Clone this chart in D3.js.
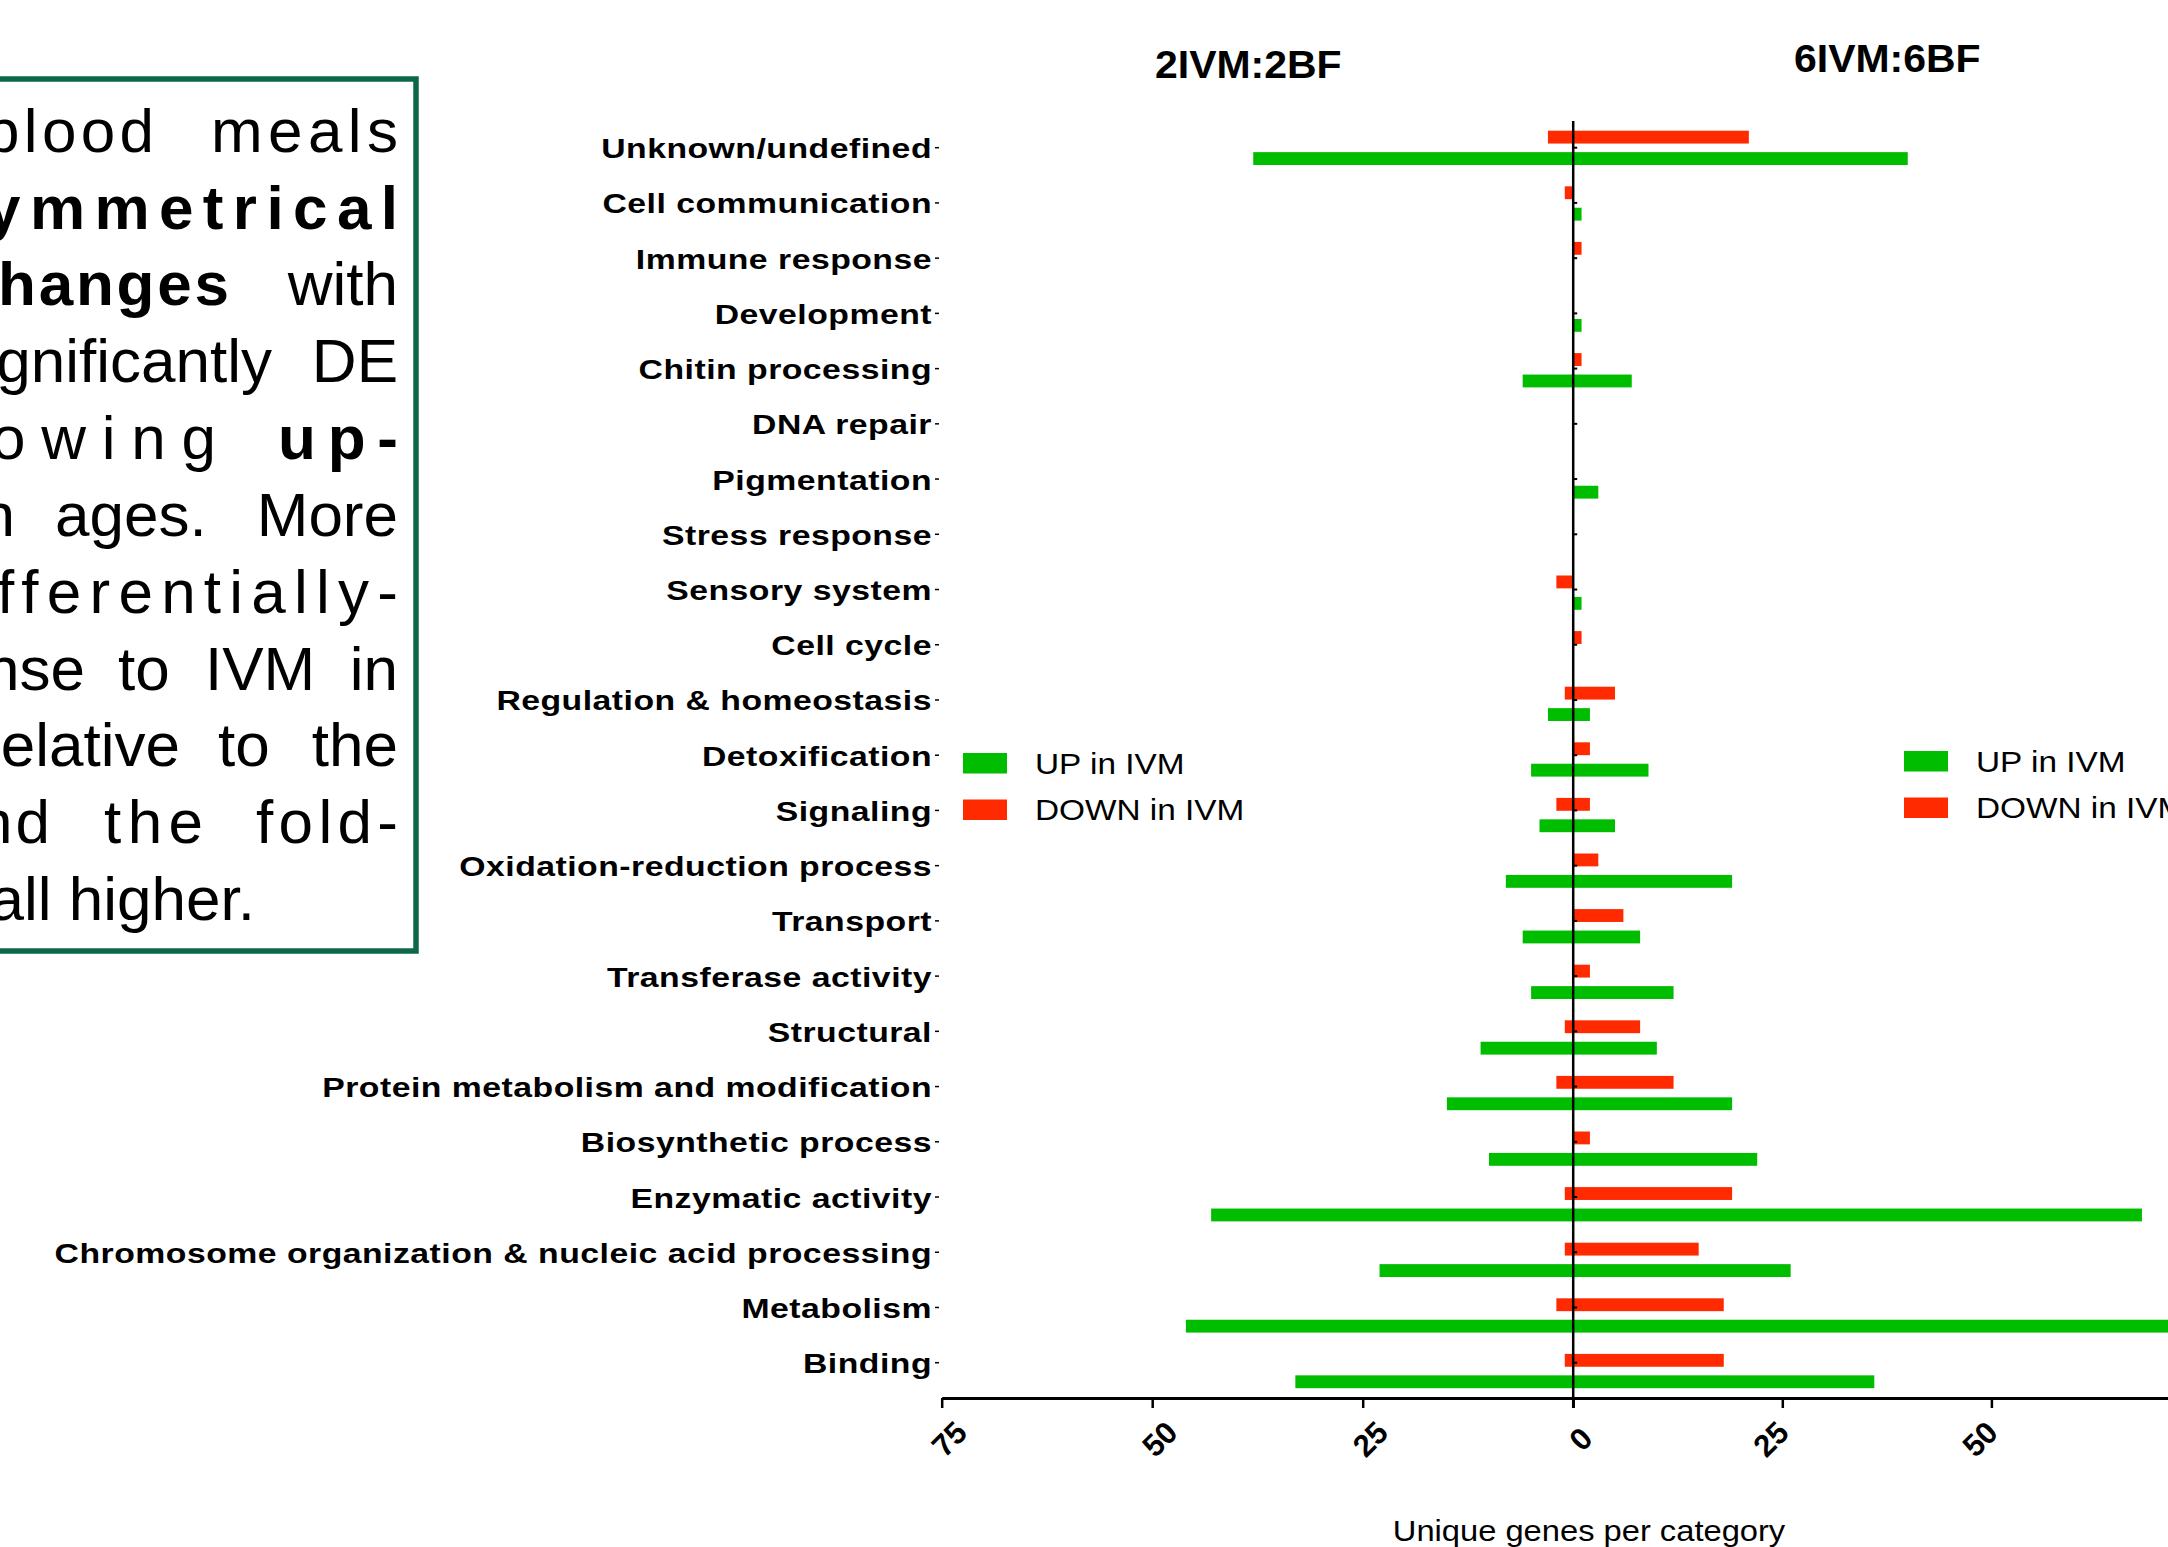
<!DOCTYPE html>
<html><head><meta charset="utf-8">
<script src="https://cdn.jsdelivr.net/npm/d3@7"></script>
<style>html,body{margin:0;padding:0;background:#fff;overflow:hidden}</style>
</head><body>
<svg id="chart" width="2168" height="1547" xmlns="http://www.w3.org/2000/svg"></svg>
<script>
// ---------- data ----------
const categories = [
  "Unknown/undefined","Cell communication","Immune response","Development",
  "Chitin processing","DNA repair","Pigmentation","Stress response",
  "Sensory system","Cell cycle","Regulation & homeostasis","Detoxification",
  "Signaling","Oxidation-reduction process","Transport","Transferase activity",
  "Structural","Protein metabolism and modification","Biosynthetic process",
  "Enzymatic activity","Chromosome organization & nucleic acid processing",
  "Metabolism","Binding"
];
// 2IVM:2BF (drawn to the left of zero)
const upIVM_2 =   [38,0,0,0,6,0,0,0,0,0,3,5,4,8,6,5,11,15,10,43,23,46,33];
const downIVM_2 = [3,1,0,0,0,0,0,0,2,0,1,0,2,0,0,0,1,2,0,1,1,2,1];
// 6IVM:6BF (drawn to the right of zero)
const upIVM_6 =   [40,1,0,1,7,0,3,0,1,0,2,9,5,19,8,12,10,19,22,68,26,75,36];
const downIVM_6 = [21,0,1,0,1,0,0,0,0,1,5,2,2,3,6,2,8,12,2,19,15,18,18];

const tickValues = [-75,-50,-25,0,25,50,75];
const panelTitles = ["2IVM:2BF","6IVM:6BF"];
const seriesNames = ["UP in IVM","DOWN in IVM"];
const seriesColors = ["#00bd00","#ff2a00"];
const axisTitle = "Unique genes per category";

// side note text (visible, cut at the left edge)
const noteLines = [
  [["blood"],["meals"]],
  [["ymmetrical",1]],
  [["hanges",1],["with"]],
  [["gnificantly"],["DE"]],
  [["owing"],["up-",1]],
  [["n"],["ages."],["More"]],
  [["fferentially-"]],
  [["nse"],["to"],["IVM"],["in"]],
  [["elative"],["to"],["the"]],
  [["nd"],["the"],["fold-"]],
  [["all higher."]]
];
// layout for note words: {a:anchor x, m:'s'|'e'} or {x0,x1} for spread words
const noteLayout = [
  [{x0:-15,x1:154},{x0:211,x1:398}],
  [{x0:-14,x1:398}],
  [{x0:-2,x1:229},{m:'e',a:398}],
  [{m:'e',a:272},{m:'e',a:398}],
  [{x0:-9,x1:216},{x0:278,x1:398}],
  [{m:'e',a:15},{m:'s',a:55},{m:'e',a:398}],
  [{x0:-3,x1:398}],
  [{m:'e',a:85},{m:'s',a:118},{m:'s',a:205},{m:'e',a:398}],
  [{m:'e',a:180},{m:'s',a:218},{m:'e',a:398}],
  [{x0:-22,x1:50},{x0:104,x1:203},{x0:256,x1:398}],
  [{m:'e',a:255}]
];

// ---------- drawing ----------
const svg = d3.select("#chart");
const FONT = "'Liberation Sans', Arial, Helvetica, sans-serif";
svg.append("rect").attr("width",2168).attr("height",1547).attr("fill","#fff");

// Note box
const note = svg.append("g");
note.append("rect").attr("x",-20).attr("y",79).attr("width",436).attr("height",872)
  .attr("fill","none").attr("stroke","#0d684a").attr("stroke-width",5.5);
noteLines.forEach((line,i)=>{
  const by = 151.7 + i*76.83;
  line.forEach((w,j)=>{
    const L = noteLayout[i][j];
    const t = note.append("text").text(w[0])
      .attr("y",by).attr("font-family",FONT).attr("font-size",62)
      .attr("font-weight",w[1]?"bold":"normal").attr("fill","#000");
    if (L.x0!==undefined){
      t.attr("x",L.x0).attr("textLength",L.x1-L.x0).attr("lengthAdjust","spacing");
    } else {
      t.attr("x",L.a).attr("text-anchor",L.m==='e'?"end":"start");
    }
  });
});

// Scales
const x = d3.scaleLinear().domain([-75,0,75]).range([941.7,1573.2,2200.5]);
const yBar = d3.scaleBand().domain(categories).range([120.2,1399]).padding(0);
const ySub = d3.scaleBand().domain(["down","up"]).range([-17.3,17]).paddingInner(0.4);
const yLab = d3.scalePoint().domain(categories).range([147.7,1362.7]);

// Bars
const rows = [];
categories.forEach((c,i)=>{
  rows.push({c, s:"up", v:-upIVM_2[i]});
  rows.push({c, s:"down", v:-downIVM_2[i]});
  rows.push({c, s:"up", v:upIVM_6[i]});
  rows.push({c, s:"down", v:downIVM_6[i]});
});
svg.append("g").selectAll("rect").data(rows.filter(d=>d.v!==0)).join("rect")
  .attr("x",d=>Math.min(x(d.v),x(0)))
  .attr("width",d=>Math.abs(x(d.v)-x(0)))
  .attr("y",d=>yBar(d.c)+yBar.bandwidth()/2+ySub(d.s))
  .attr("height",ySub.bandwidth())
  .attr("fill",d=>d.s==="up"?seriesColors[0]:seriesColors[1]);

// zero line
svg.append("line").attr("x1",x(0)).attr("x2",x(0)).attr("y1",121).attr("y2",1408)
  .attr("stroke","#000").attr("stroke-width",2.5);
// small ticks on zero line
svg.append("g").selectAll("line").data(categories).join("line")
  .attr("x1",x(0)).attr("x2",x(0)+4).attr("y1",d=>yLab(d)).attr("y2",d=>yLab(d))
  .attr("stroke","#000").attr("stroke-width",2);

// category labels with ticks
const lab = svg.append("g");
lab.selectAll("text").data(categories).join("text")
  .attr("text-anchor","end").attr("font-family",FONT).attr("font-weight","bold")
  .attr("font-size",27).attr("fill","#000").style("letter-spacing","0.4px")
  .attr("transform",d=>`translate(932,${yLab(d)+10.5}) scale(1.25,1)`)
  .text(d=>d);
lab.selectAll("line").data(categories).join("line")
  .attr("x1",935).attr("x2",939).attr("y1",d=>yLab(d)).attr("y2",d=>yLab(d))
  .attr("stroke","#000").attr("stroke-width",1.5);

// x axis
const ax = svg.append("g").attr("transform","translate(0,1398)")
  .call(d3.axisBottom(x).tickValues(tickValues).tickSize(10).tickSizeOuter(0)
        .tickFormat(d=>String(Math.abs(d))));
ax.select(".domain").attr("stroke","#000").attr("stroke-width",3);
ax.selectAll(".tick line").attr("stroke","#000").attr("stroke-width",2.5);
ax.selectAll(".tick text").each(function(d){
  const dx = d>0 ? -12 : 7;
  d3.select(this).attr("x",dx).attr("y",41).attr("dy","0.35em")
    .attr("text-anchor","middle").attr("font-family",FONT).attr("font-size",31)
    .attr("font-weight","bold")
    .attr("fill","#000").attr("transform",`rotate(-45,${dx},41)`);
});

// axis title
svg.append("text").attr("text-anchor","middle")
  .attr("transform","translate(1589,1541) scale(1.09,1)")
  .attr("font-family",FONT).attr("font-size",30)
  .attr("fill","#000").text(axisTitle);

// panel titles
const titlePos = [[1155,78],[1794,72]];
panelTitles.forEach((t,i)=>{
  svg.append("text")
    .attr("transform",`translate(${titlePos[i][0]},${titlePos[i][1]}) scale(1.05,1)`)
    .attr("font-family",FONT).attr("font-weight","bold").attr("font-size",39)
    .attr("fill","#000").text(t);
});

// legends
const legendPos = [[963,753],[1904,751]];
legendPos.forEach(p=>{
  const g = svg.append("g").attr("transform",`translate(${p[0]},${p[1]})`);
  seriesNames.forEach((s,k)=>{
    g.append("rect").attr("x",0).attr("y",k*46.5).attr("width",44).attr("height",20.5)
      .attr("fill",seriesColors[k]);
    g.append("text").attr("transform",`translate(72,${k*46.5+20.5}) scale(1.15,1)`)
      .attr("font-family",FONT).attr("font-size",29)
      .attr("fill","#000").text(s);
  });
});
</script>
</body></html>
